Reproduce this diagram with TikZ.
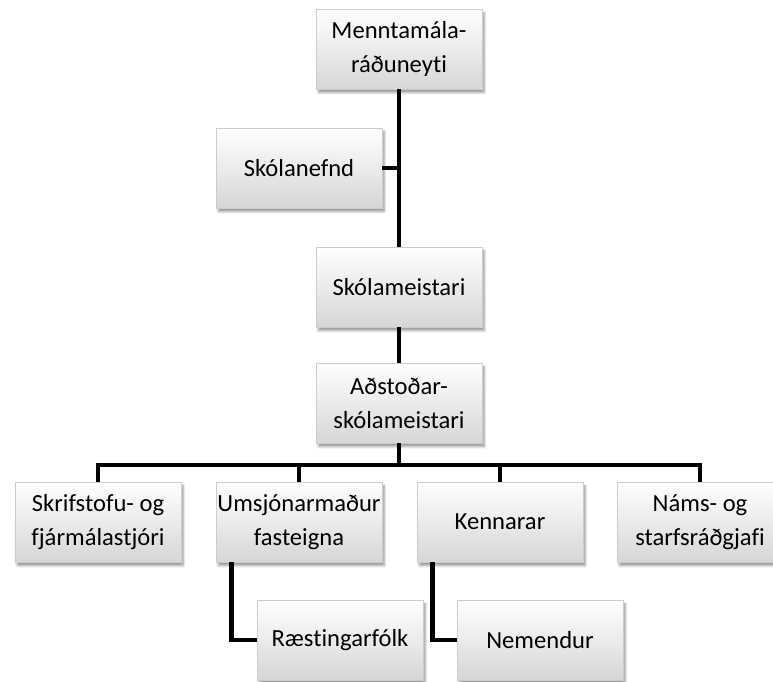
\documentclass[tikz,border=0pt]{standalone}
\usepackage{fontspec}
\setmainfont{Carlito}[Ligatures=CommonOff]
\usetikzlibrary{positioning,calc,shadows.blur}
\tikzset{>=stealth}
\tikzset{orgbox/.style={draw=gray!40, minimum width=49.8mm, minimum height=24mm, inner sep=0pt, align=center,
    top color=white, bottom color=gray!32,
    blur shadow={shadow xshift=0.7mm, shadow yshift=-1.1mm, shadow blur steps=6, shadow opacity=40},
    font=\fontsize{21}{29}\selectfont}}
\tikzset{link/.style={line width=4pt}}

\begin{document}
\begin{tikzpicture}[x=0.3mm,y=-0.3mm]
    \useasboundingbox (0,0) rectangle (773,682);
    \node[orgbox] (radu) at (399,49) {Menntamála-\\ráðuneyti};
    \node[orgbox] (nefnd) at (299,168) {Skólanefnd};
    \node[orgbox] (meist) at (399,287) {Skólameistari};
    \node[orgbox] (adst) at (399,403) {Aðstoðar-\\skólameistari};
    \node[orgbox] (skrif) at (98,522) {Skrifstofu- og\\fjármálastjóri};
    \node[orgbox] (umsj) at (299,522) {Umsjónarmaður\\fasteigna};
    \node[orgbox] (kenn) at (500,522) {Kennarar};
    \node[orgbox] (nams) at (700,522) {Náms- og\\starfsráðgjafi};
    \node[orgbox] (raest) at (340,640) {Ræstingarfólk};
    \node[orgbox] (nem) at (540,640) {Nemendur};
    \coordinate (bus) at (399,465);
    \draw[link] (radu.south) -- (meist.north);
    \draw[link] (nefnd.east) -- (nefnd.east -| radu);
    \draw[link] (meist.south) -- (adst.north);
    \draw[link] (adst.south) -- (bus);
    \draw[link] (skrif.north) |- (bus) -| (nams.north);
    \foreach \n in {umsj,kenn}
        \draw[link] (\n.north) -- (\n.north |- bus);
    \draw[link] ($(umsj.south west)+(16,0)$) |- (raest.west);
    \draw[link] ($(kenn.south west)+(16,0)$) |- (nem.west);
\end{tikzpicture}
\end{document}
